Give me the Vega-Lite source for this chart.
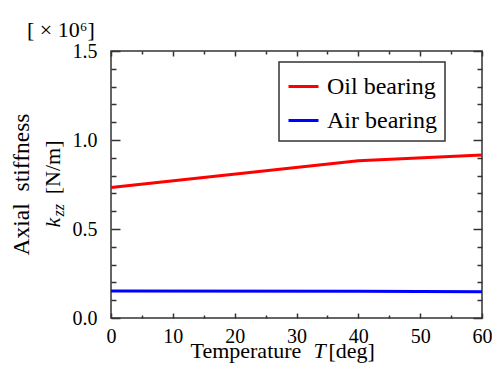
{
  "$schema": "https://vega.github.io/schema/vega-lite/v6.json",
  "width": 371,
  "height": 267,
  "autosize": {"type": "none"},
  "padding": {"left": 111, "top": 51, "right": 10, "bottom": 52},
  "title": {"text": "[ × 10⁶]", "anchor": "start", "frame": "group", "dx": -84, "offset": -1},
  "data": {
    "values": [
      {"T": 0, "k": 0.733, "series": "Oil bearing"},
      {"T": 40, "k": 0.884, "series": "Oil bearing"},
      {"T": 60, "k": 0.916, "series": "Oil bearing"},
      {"T": 0, "k": 0.152, "series": "Air bearing"},
      {"T": 40, "k": 0.15, "series": "Air bearing"},
      {"T": 60, "k": 0.148, "series": "Air bearing"}
    ]
  },
  "resolve": {"axis": {"x": "independent", "y": "independent"}},
  "layer": [
    {
      "mark": {"type": "line", "strokeWidth": 3},
      "encoding": {
        "x": {"field": "T", "type": "quantitative", "scale": {"domain": [0, 60], "nice": false},
          "axis": {"orient": "bottom", "values": [0, 10, 20, 30, 40, 50, 60], "format": "d", "tickSize": -5, "labelPadding": 13,
            "title": "Temperature", "titleX": 79, "titleY": 39, "titleAlign": "left", "titleBaseline": "alphabetic", "titleAngle": 0}},
        "y": {"field": "k", "type": "quantitative", "scale": {"domain": [0, 1.5], "nice": false},
          "axis": {"orient": "left", "values": [0, 0.5, 1, 1.5], "format": ".1f", "tickSize": -9, "labelPadding": 23,
            "title": "Axial\u00a0 stiffness", "titleX": -83, "titleY": 133, "titleAlign": "center", "titleBaseline": "alphabetic", "titleAngle": -90, "titleFontSize": 23.5}},
        "color": {"field": "series", "type": "nominal", "scale": {"domain": ["Oil bearing", "Air bearing"], "range": ["#ff0000", "#0000ff"]},
          "legend": {"orient": "none", "legendX": 168, "legendY": 11, "title": null, "symbolType": "stroke", "symbolSize": 900, "symbolStrokeWidth": 3, "labelOffset": 7, "labelFontSize": 24, "rowPadding": 5, "padding": 8, "labelExpr": "datum.label + '\u00a0\u00a0'"}}
      }
    },
    {
      "mark": {"type": "point", "opacity": 0},
      "encoding": {
        "x": {"field": "T", "type": "quantitative",
          "axis": {"orient": "bottom", "values": [5, 15, 25, 35, 45, 55], "tickSize": -3, "labels": false,
            "title": "T", "titleFontStyle": "italic", "titleX": 202, "titleY": 39, "titleAlign": "left", "titleBaseline": "alphabetic", "titleAngle": 0}},
        "y": {"field": "k", "type": "quantitative",
          "axis": {"orient": "left", "values": [0.1, 0.2, 0.3, 0.4, 0.6, 0.7, 0.8, 0.9, 1.1, 1.2, 1.3, 1.4], "tickSize": -5, "labels": false,
            "title": "k", "titleFontStyle": "italic", "titleFontSize": 22, "titleX": -52, "titleY": 176, "titleAlign": "left", "titleBaseline": "alphabetic", "titleAngle": -90}}
      }
    },
    {
      "mark": {"type": "point", "opacity": 0},
      "encoding": {
        "x": {"field": "T", "type": "quantitative",
          "axis": {"orient": "top", "values": [0, 10, 20, 30, 40, 50, 60], "tickSize": -5, "labels": false, "title": null}},
        "y": {"field": "k", "type": "quantitative",
          "axis": {"orient": "right", "values": [0, 0.5, 1, 1.5], "tickSize": -9, "labels": false, "title": null}}
      }
    },
    {
      "mark": {"type": "point", "opacity": 0},
      "encoding": {
        "x": {"field": "T", "type": "quantitative",
          "axis": {"orient": "top", "values": [5, 15, 25, 35, 45, 55], "tickSize": -3, "labels": false, "title": null}},
        "y": {"field": "k", "type": "quantitative",
          "axis": {"orient": "right", "values": [0.1, 0.2, 0.3, 0.4, 0.6, 0.7, 0.8, 0.9, 1.1, 1.2, 1.3, 1.4], "tickSize": -5, "labels": false, "title": null}}
      }
    },
    {
      "mark": {"type": "point", "opacity": 0},
      "encoding": {
        "x": {"field": "T", "type": "quantitative",
          "axis": {"orient": "bottom", "ticks": false, "labels": false,
            "title": "[deg]", "titleX": 217, "titleY": 39, "titleAlign": "left", "titleBaseline": "alphabetic", "titleAngle": 0}},
        "y": {"field": "k", "type": "quantitative",
          "axis": {"orient": "left", "ticks": false, "labels": false,
            "title": "zz", "titleFontStyle": "italic", "titleFontSize": 16, "titleX": -48, "titleY": 165, "titleAlign": "left", "titleBaseline": "alphabetic", "titleAngle": -90}}
      }
    },
    {
      "mark": {"type": "point", "opacity": 0},
      "encoding": {
        "x": {"field": "T", "type": "quantitative", "axis": null},
        "y": {"field": "k", "type": "quantitative",
          "axis": {"orient": "left", "ticks": false, "labels": false,
            "title": "[N/m]", "titleFontSize": 22, "titleX": -52, "titleY": 89, "titleAlign": "right", "titleBaseline": "alphabetic", "titleAngle": -90}}
      }
    }
  ],
  "config": {
    "font": "Liberation Serif",
    "view": {"stroke": "#333333", "strokeWidth": 1.5},
    "axis": {
      "domain": false, "grid": false, "tickColor": "#333333", "tickWidth": 1.5,
      "labelFont": "Liberation Serif", "labelFontSize": 20, "labelColor": "#000000",
      "labelFlush": false, "labelOverlap": false,
      "titleFont": "Liberation Serif", "titleFontSize": 22, "titleFontWeight": "normal", "titleColor": "#000000", "titlePadding": 0
    },
    "legend": {"labelFont": "Liberation Serif", "labelColor": "#000000", "strokeColor": "#333333", "strokeWidth": 1.5, "fillColor": "#ffffff"},
    "title": {"font": "Liberation Serif", "fontSize": 22, "fontWeight": "normal", "color": "#000000"}
  }
}
